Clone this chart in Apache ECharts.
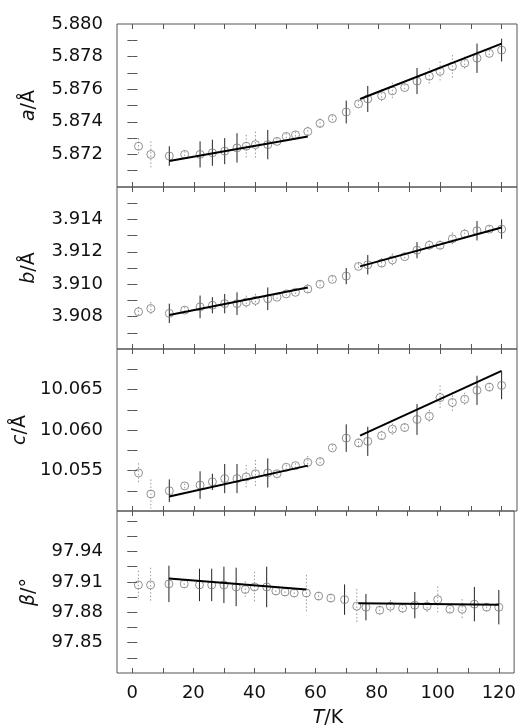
<!DOCTYPE html>
<html>
<head>
<meta charset="utf-8">
<script src="https://cdn.jsdelivr.net/npm/echarts/dist/echarts.min.js"></script>
<style>
html,body{margin:0;padding:0;background:#fff;}
#c{width:519px;height:725px;}
</style>
</head>
<body>
<div id="c"></div>
<script>
// ---------------- DATA ----------------
const T = [2, 6, 12, 17, 22, 26, 30, 34, 37, 40, 44, 47, 50, 53, 57, 61, 65, 69.5, 73.5, 76.5, 81, 84.5, 88.5, 92.5, 96.5, 100, 104, 108, 112, 116, 120];

const aVals = [5.8725, 5.8720, 5.8719, 5.8720, 5.8720, 5.8721, 5.8722, 5.8724, 5.8725, 5.8726, 5.8726, 5.8728, 5.8731, 5.8732, 5.8734, 5.8739, 5.8742, 5.8746, 5.8751, 5.8754, 5.8756, 5.8759, 5.8761, 5.8765, 5.8768, 5.8771, 5.8774, 5.8776, 5.8779, 5.8782, 5.8784];
const aErr  = [0.0005, 0.0008, 0.0006, 0.0002, 0.0008, 0.0008, 0.0008, 0.0009, 0.0007, 0.0008, 0.0009, 0.0002, 0.0002, 0.0002, 0.0003, 0.0003, 0.0002, 0.0007, 0.0002, 0.0008, 0.0004, 0.0005, 0.0002, 0.0008, 0.0005, 0.0006, 0.0007, 0.0004, 0.0009, 0.0002, 0.0007];
const aFit1 = [[12, 5.8716], [57, 5.8731]];
const aFit2 = [[74, 5.8754], [120, 5.8788]];

const bVals = [3.9083, 3.9085, 3.9082, 3.9084, 3.9086, 3.9087, 3.9088, 3.9088, 3.9089, 3.9090, 3.9091, 3.9092, 3.9094, 3.9095, 3.9097, 3.9100, 3.9103, 3.9105, 3.9111, 3.9112, 3.9113, 3.9115, 3.9117, 3.9121, 3.9124, 3.9124, 3.9128, 3.9131, 3.9133, 3.9134, 3.9134];
const bErr  = [0.0003, 0.0004, 0.0006, 0.0002, 0.0007, 0.0005, 0.0006, 0.0007, 0.0004, 0.0004, 0.0007, 0.0002, 0.0002, 0.0002, 0.0003, 0.0002, 0.0002, 0.0005, 0.0002, 0.0006, 0.0003, 0.0004, 0.0002, 0.0005, 0.0003, 0.0003, 0.0004, 0.0003, 0.0006, 0.0002, 0.0006];
const bFit1 = [[12, 3.9081], [57, 3.9098]];
const bFit2 = [[74, 3.9111], [120, 3.9135]];

const cVals = [10.0547, 10.0521, 10.0525, 10.0531, 10.0532, 10.0536, 10.0540, 10.0540, 10.0542, 10.0546, 10.0547, 10.0546, 10.0554, 10.0556, 10.0560, 10.0561, 10.0578, 10.0590, 10.0584, 10.0586, 10.0593, 10.0601, 10.0603, 10.0613, 10.0617, 10.0640, 10.0634, 10.0638, 10.0649, 10.0653, 10.0655];
const cErr  = [0.0012, 0.0018, 0.0014, 0.0003, 0.0017, 0.0010, 0.0018, 0.0018, 0.0015, 0.0017, 0.0018, 0.0004, 0.0003, 0.0003, 0.0008, 0.0004, 0.0004, 0.0017, 0.0006, 0.0018, 0.0006, 0.0007, 0.0005, 0.0019, 0.0008, 0.0015, 0.0013, 0.0008, 0.0018, 0.0005, 0.0017];
const cFit1 = [[12, 10.0518], [57, 10.0556]];
const cFit2 = [[74, 10.0593], [120, 10.0673]];

const betaVals = [97.907, 97.907, 97.908, 97.908, 97.907, 97.907, 97.907, 97.905, 97.9025, 97.905, 97.905, 97.901, 97.900, 97.899, 97.899, 97.896, 97.894, 97.8925, 97.886, 97.885, 97.882, 97.886, 97.884, 97.887, 97.886, 97.8925, 97.883, 97.883, 97.888, 97.885, 97.885];
const betaErr  = [0.014, 0.017, 0.018, 0.004, 0.016, 0.016, 0.018, 0.019, 0.008, 0.015, 0.020, 0.004, 0.004, 0.004, 0.018, 0.004, 0.004, 0.015, 0.017, 0.013, 0.004, 0.006, 0.004, 0.013, 0.006, 0.013, 0.005, 0.010, 0.017, 0.004, 0.017];
const betaFit1 = [[12, 97.9133], [57, 97.9025]];
const betaFit2 = [[74, 97.889], [120, 97.8875]];

const xTickLabels = [0, 20, 40, 60, 80, 100, 120];
const aTicks = [5.872, 5.874, 5.876, 5.878, 5.880];
const bTicks = [3.908, 3.910, 3.912, 3.914];
const cTicks = [10.055, 10.060, 10.065];
const betaTicks = [97.85, 97.88, 97.91, 97.94];

// ---------------- RENDERING ----------------
const FONT = 'DejaVu Sans';
const solidIdx = [2, 4, 5, 6, 7, 10, 17, 19, 23, 28, 30];

const panels = [
  {vals: aVals, err: aErr, fits: [aFit1, aFit2], labels: aTicks, min: 5.870, max: 5.880, minor: 0.001, dec: 3, name: '{i|a}/Å'},
  {vals: bVals, err: bErr, fits: [bFit1, bFit2], labels: bTicks, min: 3.906, max: 3.916, minor: 0.001, dec: 3, name: '{i|b}/Å'},
  {vals: cVals, err: cErr, fits: [cFit1, cFit2], labels: cTicks, min: 10.050, max: 10.070, minor: 0.0025, dec: 3, name: '{i|c}/Å'},
  {vals: betaVals, err: betaErr, fits: [betaFit1, betaFit2], labels: betaTicks, min: 97.82, max: 97.98, minor: 0.015, dec: 2, name: '{i|β}/°'}
];
const tops = [24, 187, 349, 511];
const heights = [163, 162, 162, 162];

function tickList(min, max, step, anchor) {
  const out = [];
  const n0 = Math.ceil((min - anchor) / step - 1e-9);
  const n1 = Math.floor((max - anchor) / step + 1e-9);
  for (let n = n0; n <= n1; n++) {
    const v = +(anchor + n * step).toFixed(6);
    if (v > min + 1e-9 && v < max - 1e-9) out.push(v);
  }
  return out;
}
const xTicks = tickList(-5, 125, 10, 0);

const grids = [], xAxes = [], yAxes = [], series = [];
const axisCol = '#555';
panels.forEach((p, i) => {
  grids.push({left: 117, right: 2, top: tops[i], height: heights[i], show: true, borderColor: axisCol, borderWidth: 1, backgroundColor: 'transparent'});
  const yTicks = tickList(p.min, p.max, p.minor, p.labels[0]);
  ['bottom', 'top'].forEach(pos => {
    xAxes.push({
      type: 'value', gridIndex: i, position: pos, min: -5, max: 125, interval: 5,
      axisLine: {show: false},
      axisTick: {show: true, inside: true, length: 5, customValues: xTicks, lineStyle: {color: axisCol}},
      axisLabel: {show: pos === 'bottom' && i === 3, customValues: xTickLabels, margin: 11, fontFamily: FONT, fontSize: 18, color: '#111'},
      splitLine: {show: false}
    });
  });
  ['left', 'right'].forEach(pos => {
    const ax = {
      type: 'value', gridIndex: i, position: pos, min: p.min, max: p.max, interval: p.minor,
      axisLine: {show: false},
      axisTick: {show: true, inside: true, length: 5, customValues: yTicks, lineStyle: {color: axisCol}},
      axisLabel: {show: pos === 'left', customValues: p.labels, margin: 14, fontFamily: FONT, fontSize: 18, color: '#111',
        formatter: v => v.toFixed(p.dec)},
      splitLine: {show: false}
    };
    if (pos === 'left') {
      Object.assign(ax, {
        name: p.name, nameLocation: 'middle', nameRotate: 90, nameGap: 78,
        nameTextStyle: {fontFamily: FONT, fontSize: 19, color: '#111', rich: {i: {fontFamily: FONT, fontSize: 19, fontStyle: 'italic', color: '#111'}}}
      });
    }
    yAxes.push(ax);
  });
  const xi = 2 * i, yi = 2 * i;
  series.push({
    type: 'custom', xAxisIndex: xi, yAxisIndex: yi, z: 2, silent: true,
    data: T.map((t, k) => [t, p.vals[k], p.err[k], solidIdx.includes(k) ? 1 : 0]),
    renderItem: (params, api) => {
      const x = api.value(0), y = api.value(1), e = api.value(2), s = api.value(3);
      const p1 = api.coord([x, y + e]), p2 = api.coord([x, y - e]);
      return {type: 'line', shape: {x1: p1[0], y1: p1[1], x2: p2[0], y2: p2[1]},
        style: s ? {stroke: '#222', lineWidth: 1} : {stroke: '#999', lineWidth: 1, lineDash: [1.5, 2]}};
    }
  });
  series.push({
    type: 'scatter', xAxisIndex: xi, yAxisIndex: yi, z: 3, silent: true,
    symbol: 'circle', symbolSize: 8,
    itemStyle: {color: 'rgba(0,0,0,0)', borderColor: '#777', borderWidth: 1},
    data: T.map((t, k) => [t, p.vals[k]])
  });
  p.fits.forEach(f => {
    series.push({
      type: 'line', xAxisIndex: xi, yAxisIndex: yi, z: 4, silent: true,
      symbol: 'none', lineStyle: {color: '#000', width: 2}, data: f
    });
  });
});

const chart = echarts.init(document.getElementById('c'), null, {renderer: 'canvas'});
chart.setOption({
  animation: false,
  backgroundColor: '#fff',
  grid: grids, xAxis: xAxes, yAxis: yAxes, series: series,
  graphic: [{
    type: 'text', x: 328, y: 718,
    style: {text: '{i|T}/K', textAlign: 'center', textVerticalAlign: 'middle', fontFamily: FONT, fontSize: 19, fill: '#111',
      rich: {i: {fontFamily: FONT, fontSize: 19, fontStyle: 'italic', fill: '#111'}}}
  }]
});
</script>
</body>
</html>
